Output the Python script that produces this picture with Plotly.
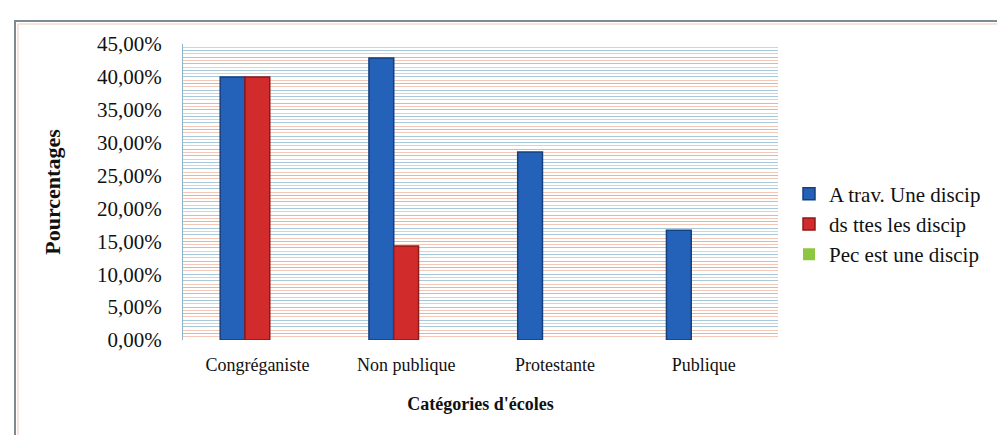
import plotly.graph_objects as go

categories = ["Congréganiste", "Non publique", "Protestante", "Publique"]
series_names = ["A trav. Une discip", "ds ttes les discip", "Pec est une discip"]
a_trav = [40.0, 42.86, 28.57, 16.67]
ds_ttes = [40.0, 14.29, 0.0, 0.0]
pec_est = [0.0, 0.0, 0.0, 0.0]
tick_vals = list(range(0, 46))
tick_text = [f"{v},00%" if v % 5 == 0 else "" for v in tick_vals]

W, H = 1005, 435
L, R, T, B = 175, 235, 36, 103
FONT = "Liberation Serif"

fills = ["#2461b8", "#d22b2b", "#8dc63f"]
edges = ["#163f7e", "#8e1a1a", "#5e8a25"]

fig = go.Figure()
for name, vals, c, e in zip(series_names, [a_trav, ds_ttes, pec_est], fills, edges):
    fig.add_trace(go.Bar(
        x=categories, y=vals, name=name,
        marker=dict(color=c, line=dict(color=e, width=[1.5 if v > 0 else 0 for v in vals])),
    ))

# frame around the whole chart (paper coords computed from pixel margins)
pw = W - L - R
ph = H - T - B
def px_x(p):
    return (p - L) / pw
def px_y(p):
    return 1 - (p - T) / ph

fig.add_shape(type="rect", xref="paper", yref="paper",
              x0=px_x(7), x1=px_x(1003), y0=px_y(431), y1=px_y(13),
              line=dict(color="#7d8a92", width=2), layer="below")
fig.add_shape(type="rect", xref="paper", yref="paper",
              x0=px_x(10), x1=px_x(1000), y0=px_y(428), y1=px_y(16),
              line=dict(color="#f3c9b8", width=1), layer="below")

fig.update_layout(
    width=W, height=H,
    margin=dict(l=L, r=R, t=T, b=B),
    paper_bgcolor="white",
    plot_bgcolor="white",
    barmode="group",
    bargap=0.5,
    bargroupgap=0,
    font=dict(family=FONT, size=19, color="#111111"),
    showlegend=True,
    legend=dict(
        x=px_x(781), xanchor="left",
        y=px_y(216), yanchor="middle",
        font=dict(family=FONT, size=21, color="#111111"),
        bgcolor="rgba(0,0,0,0)",
        itemwidth=30,
    ),
    xaxis=dict(
        title=dict(text="<b>Catégories d'écoles</b>", font=dict(family=FONT, size=18), standoff=23),
        showline=False,
        ticks="",
        tickfont=dict(family=FONT, size=18),
        ticklabelstandoff=12,
    ),
    yaxis=dict(
        range=[0, 45],
        tickvals=tick_vals,
        ticktext=tick_text,
        ticks="",
        showline=True,
        linecolor="#8fb3c8",
        showgrid=True,
        gridcolor="#a8c8d9",
        gridwidth=1,
        zeroline=False,
        tickfont=dict(family=FONT, size=21),
        ticklabelstandoff=16,
        minor=dict(dtick=0.5, showgrid=True, gridcolor="#f3c8b9", gridwidth=1),
        title=dict(text="<b>Pourcentages</b>", font=dict(family=FONT, size=22), standoff=30),
    ),
)

fig.write_html("out.html")
